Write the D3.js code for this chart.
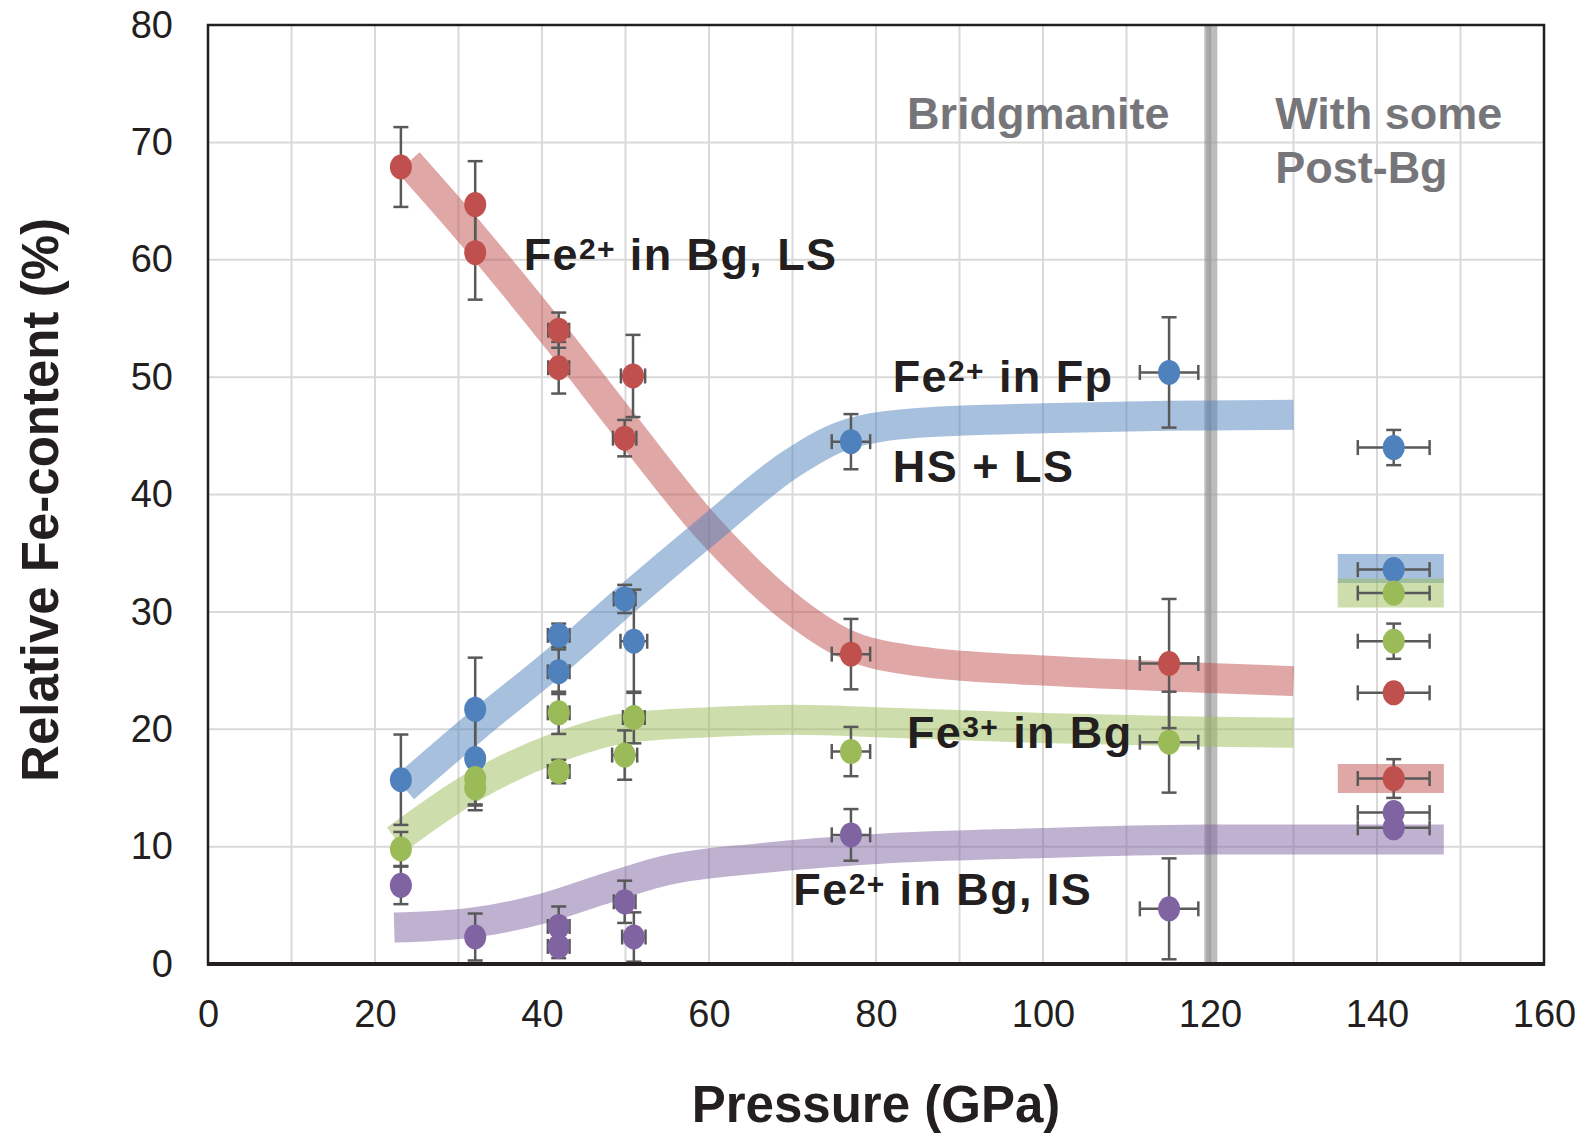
<!DOCTYPE html>
<html>
<head>
<meta charset="utf-8">
<script src="https://cdn.jsdelivr.net/npm/d3@7"></script>
<style>
body { margin: 0; background: #fff; }
svg text { font-family: "Liberation Sans", Arial, Helvetica, sans-serif; }
</style>
</head>
<body>
<div id="chart"></div>
<script>
// ticks
var xTicks = [0, 20, 40, 60, 80, 100, 120, 140, 160];
var yTicks = [0, 10, 20, 30, 40, 50, 60, 70, 80];

// measured points: [pressure GPa, Fe-content %, x error, y error]
var redPoints = [
    [23.1, 67.9, 0, 3.4], [32.0, 64.7, 0, 3.7], [32.0, 60.6, 0, 4.0],
    [42.0, 54.0, 1.25, 1.5], [42.0, 50.8, 1.25, 2.2], [50.9, 50.1, 1.45, 3.5],
    [49.9, 44.8, 1.4, 1.55], [77.0, 26.4, 2.3, 3.0], [115.1, 25.6, 3.5, 5.5],
    [142.0, 23.1, 4.3, 0.5], [142.0, 15.8, 4.3, 1.65]
];
var bluePoints = [
    [23.1, 15.7, 0, 3.85], [32.0, 21.7, 0, 4.4], [32.0, 17.5, 0, 4.0],
    [42.0, 28.0, 1.3, 1.0], [42.0, 24.9, 1.3, 1.9], [49.9, 31.1, 1.3, 1.2],
    [51.0, 27.5, 1.6, 4.4], [77.0, 44.5, 2.3, 2.35], [115.1, 50.4, 3.5, 4.7],
    [142.0, 44.0, 4.3, 1.5], [142.0, 33.6, 4.3, 0.4]
];
var greenPoints = [
    [23.1, 9.8, 0, 1.45], [32.0, 15.8, 0, 2.2], [32.0, 15.0, 0, 1.9],
    [42.0, 21.4, 1.3, 1.8], [42.0, 16.4, 1.3, 1.0], [49.9, 17.8, 1.5, 2.1],
    [51.0, 21.0, 1.3, 2.2], [77.0, 18.1, 2.3, 2.1], [115.1, 18.9, 3.5, 4.3],
    [142.0, 31.6, 4.3, 0.4], [142.0, 27.5, 4.3, 1.5]
];
var purplePoints = [
    [23.1, 6.7, 0, 1.6], [32.0, 2.3, 0, 2.0], [42.0, 3.2, 1.3, 1.7],
    [42.0, 1.5, 1.3, 1.0], [49.9, 5.3, 1.3, 1.8], [51.0, 2.3, 1.4, 2.1],
    [77.0, 11.0, 2.3, 2.2], [115.1, 4.7, 3.5, 4.3],
    [142.0, 12.9, 4.3, 0.4], [142.0, 11.6, 4.3, 0.4]
];

// guide-to-the-eye bands: [pressure, Fe-content]
var redBand = [[24, 68.3], [32, 61.8], [42, 53.1], [50, 45.8], [60, 37.0], [70, 30.2],
               [76, 27.4], [85, 25.8], [100, 25.0], [115, 24.5], [130, 24.1]];
var blueBand = [[23.5, 15.0], [32, 20.2], [42, 26.0], [50, 31.0], [60, 37.0], [70, 42.7],
                [76, 45.0], [85, 46.1], [100, 46.5], [115, 46.7], [130, 46.8]];
var greenBand = [[22.5, 10.6], [32, 15.2], [42, 18.5], [50, 20.1], [60, 20.6], [70, 20.8],
                 [80, 20.6], [100, 20.1], [118, 19.8], [130, 19.7]];
var purpleBand = [[22.3, 3.1], [31.4, 3.5], [40, 4.7], [47, 6.3], [55, 8.0], [66, 9.0],
                  [80, 9.8], [100, 10.3], [120, 10.6], [148, 10.6]];

// short bands for the post-Bg region: [from, to, Fe-content]
var postBgBlue = [135.3, 148, 33.7];
var postBgGreen = [135.3, 148, 31.6];
var postBgRed = [135.3, 148, 15.8];

var phaseBoundary = 120.1;

var margin = {top: 25, right: 31, bottom: 169, left: 208};
var width = 1575 - margin.left - margin.right;
var height = 1133 - margin.top - margin.bottom;

var colors = {red: "#c0504d", blue: "#4f81bd", green: "#9bbb59", purple: "#8064a2"};

var svg = d3.select("#chart").append("svg")
    .attr("width", 1575)
    .attr("height", 1133);

var g = svg.append("g")
    .attr("transform", `translate(${margin.left},${margin.top})`);

var x = d3.scaleLinear().domain([0, 160]).range([0, width]);
var y = d3.scaleLinear().domain([0, 80]).range([height, 0]);

// grid
g.append("g").selectAll("line.vg")
    .data(d3.range(10, 160, 10))
  .enter().append("line")
    .attr("x1", d => x(d)).attr("x2", d => x(d))
    .attr("y1", 0).attr("y2", height)
    .attr("stroke", "#d9d9d9").attr("stroke-width", 2);
g.append("g").selectAll("line.hg")
    .data(d3.range(10, 80, 10))
  .enter().append("line")
    .attr("x1", 0).attr("x2", width)
    .attr("y1", d => y(d)).attr("y2", d => y(d))
    .attr("stroke", "#d9d9d9").attr("stroke-width", 2);

// phase boundary
g.append("line")
    .attr("x1", x(phaseBoundary)).attr("x2", x(phaseBoundary))
    .attr("y1", 0).attr("y2", height)
    .attr("stroke", "#9a9a9a").attr("stroke-opacity", 0.65).attr("stroke-width", 13);
g.append("line")
    .attr("x1", x(phaseBoundary) - 2).attr("x2", x(phaseBoundary) - 2)
    .attr("y1", 0).attr("y2", height)
    .attr("stroke", "#888").attr("stroke-opacity", 0.35).attr("stroke-width", 5);

// bands
var line = d3.line()
    .x(d => x(d[0]))
    .y(d => y(d[1]))
    .curve(d3.curveMonotoneX);

var bands = [
    {data: redBand, c: colors.red},
    {data: blueBand, c: colors.blue},
    {data: greenBand, c: colors.green},
    {data: purpleBand, c: colors.purple}
];
g.append("g").selectAll("path")
    .data(bands)
  .enter().append("path")
    .attr("d", d => line(d.data))
    .attr("fill", "none")
    .attr("stroke", d => d.c)
    .attr("stroke-opacity", 0.5)
    .attr("stroke-width", 30);

var shortBands = [
    {d: postBgBlue, c: colors.blue},
    {d: postBgGreen, c: colors.green},
    {d: postBgRed, c: colors.red}
];
g.append("g").selectAll("line")
    .data(shortBands)
  .enter().append("line")
    .attr("x1", d => x(d.d[0])).attr("x2", d => x(d.d[1]))
    .attr("y1", d => y(d.d[2])).attr("y2", d => y(d.d[2]))
    .attr("stroke", d => d.c)
    .attr("stroke-opacity", 0.5)
    .attr("stroke-width", 29);

// points with error bars
var series = [
    {data: redPoints, c: colors.red},
    {data: bluePoints, c: colors.blue},
    {data: greenPoints, c: colors.green},
    {data: purplePoints, c: colors.purple}
];

var errG = g.append("g")
    .attr("stroke", "#595959")
    .attr("stroke-width", 2.5)
    .attr("fill", "none");
var cap = 7.5;

series.forEach(function(s) {
    s.data.forEach(function(p) {
        var px = x(p[0]), py = y(p[1]);
        if (p[3] > 0) {
            var y1 = y(p[1] + p[3]), y2 = y(p[1] - p[3]);
            errG.append("line").attr("x1", px).attr("x2", px).attr("y1", y1).attr("y2", y2);
            errG.append("line").attr("x1", px - cap).attr("x2", px + cap).attr("y1", y1).attr("y2", y1);
            errG.append("line").attr("x1", px - cap).attr("x2", px + cap).attr("y1", y2).attr("y2", y2);
        }
        if (p[2] > 0) {
            var x1 = x(p[0] - p[2]), x2 = x(p[0] + p[2]);
            errG.append("line").attr("x1", x1).attr("x2", x2).attr("y1", py).attr("y2", py);
            errG.append("line").attr("x1", x1).attr("x2", x1).attr("y1", py - cap).attr("y2", py + cap);
            errG.append("line").attr("x1", x2).attr("x2", x2).attr("y1", py - cap).attr("y2", py + cap);
        }
    });
});

series.forEach(function(s) {
    g.append("g").selectAll("ellipse")
        .data(s.data)
      .enter().append("ellipse")
        .attr("cx", d => x(d[0]))
        .attr("cy", d => y(d[1]))
        .attr("rx", 11)
        .attr("ry", 12.5)
        .attr("fill", s.c);
});

// frame
g.append("rect")
    .attr("width", width).attr("height", height)
    .attr("fill", "none").attr("stroke", "#231f20").attr("stroke-width", 2.5);
g.append("line")
    .attr("x1", -1).attr("x2", width + 1)
    .attr("y1", height).attr("y2", height)
    .attr("stroke", "#231f20").attr("stroke-width", 4);

// axes
var xAxis = g.append("g")
    .attr("transform", `translate(0,${height})`)
    .call(d3.axisBottom(x).tickValues(xTicks).tickSize(0).tickPadding(36));
var yAxis = g.append("g")
    .call(d3.axisLeft(y).tickValues(yTicks).tickSize(0).tickPadding(35));
[xAxis, yAxis].forEach(function(a) {
    a.select(".domain").remove();
    a.selectAll("text")
        .attr("font-family", "'Liberation Sans', Arial, sans-serif")
        .attr("font-size", 38)
        .attr("fill", "#231f20");
});

// axis titles
svg.append("text")
    .attr("x", margin.left + width / 2)
    .attr("y", 1122)
    .attr("text-anchor", "middle")
    .attr("font-size", 51).attr("font-weight", "bold").attr("fill", "#231f20")
    .text("Pressure (GPa)");
svg.append("text")
    .attr("transform", "translate(58,500) rotate(-90)")
    .attr("text-anchor", "middle")
    .attr("font-size", 51).attr("font-weight", "bold").attr("fill", "#231f20")
    .text("Relative Fe-content (%)");

// annotations
function label(px, py, parts, color, spacing) {
    var t = g.append("text")
        .attr("x", x(px)).attr("y", y(py))
        .attr("font-size", 45).attr("font-weight", "bold")
        .attr("letter-spacing", spacing || 0)
        .attr("fill", color || "#231f20");
    parts.forEach(function(p) {
        if (p.sup) {
            t.append("tspan").attr("font-size", 30).attr("dy", -11).text(p.sup);
        } else {
            t.append("tspan").attr("dy", p.after ? 11 : 0).text(p.t);
        }
    });
}

label(37.8, 59.1, [{t: "Fe"}, {sup: "2+"}, {t: "\u00a0in Bg, LS", after: true}], null, 1.4);
label(82.0, 48.7, [{t: "Fe"}, {sup: "2+"}, {t: "\u00a0in Fp", after: true}], null, 1.4);
label(82.0, 41.1, [{t: "HS + LS"}], null, 1.5);
label(83.7, 18.4, [{t: "Fe"}, {sup: "3+"}, {t: "\u00a0in Bg", after: true}], null, 1.4);
label(70.1, 5.0, [{t: "Fe"}, {sup: "2+"}, {t: "\u00a0in Bg, IS", after: true}], null, 1.4);
label(83.7, 71.1, [{t: "Bridgmanite"}], "#76767a");
label(127.8, 71.1, [{t: "With some"}], "#76767a");
label(127.8, 66.5, [{t: "Post-Bg"}], "#76767a");
</script>
</body>
</html>
